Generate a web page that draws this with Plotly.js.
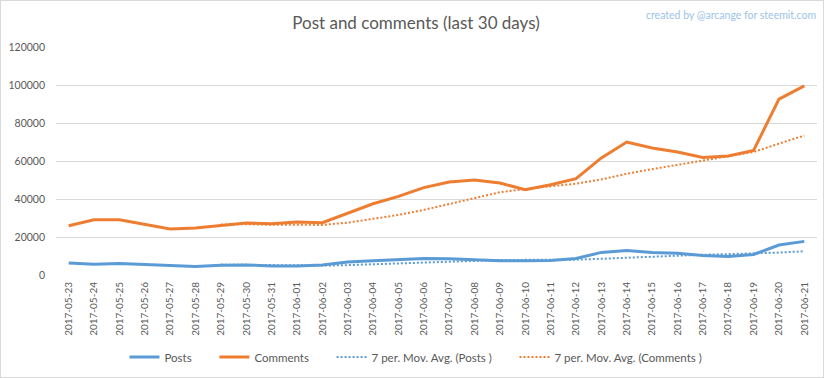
<!DOCTYPE html>
<html>
<head>
<meta charset="utf-8">
<script src="https://cdn.plot.ly/plotly-3.0.1.min.js"></script>
<style>
  html, body { margin: 0; padding: 0; background: #fff; }
  #frame { position: absolute; left: 0; top: 0; width: 822px; height: 376px; border: 1px solid #d9d9d9; }
  #chart { position: absolute; left: 0; top: 0; width: 832px; height: 378px; }
</style>
</head>
<body>
<div id="frame"></div>
<div id="chart"></div>
<script>
const dates = ["2017-05-23","2017-05-24","2017-05-25","2017-05-26","2017-05-27","2017-05-28","2017-05-29","2017-05-30","2017-05-31","2017-06-01","2017-06-02","2017-06-03","2017-06-04","2017-06-05","2017-06-06","2017-06-07","2017-06-08","2017-06-09","2017-06-10","2017-06-11","2017-06-12","2017-06-13","2017-06-14","2017-06-15","2017-06-16","2017-06-17","2017-06-18","2017-06-19","2017-06-20","2017-06-21"];
const posts = [6300,5600,6100,5600,5100,4500,5100,5300,4700,4700,5300,6800,7500,8000,8700,8600,8000,7500,7500,7600,8700,11900,12900,11900,11400,10300,9800,10800,15800,17700];
const comments = [25900,29100,29100,26800,24200,24700,25900,27400,27000,27900,27500,32600,37500,41400,46000,48900,50000,48400,44900,47500,50700,61600,70000,66800,64700,61900,62600,65600,92600,99500];
const maDates = dates.slice(6);
const maPosts = [5470,5330,5200,5000,4960,5200,5630,6040,6530,7090,7560,7870,7970,7990,8090,8540,9160,9710,10270,10670,10990,11270,11810,12500];
const maComments = [26530,26740,26440,26270,26370,27570,29400,31610,34270,37400,40560,43540,45300,46730,48060,50290,53300,55700,58030,60460,62610,64740,69170,73390];
const tickVals = [0,20000,40000,60000,80000,100000,120000];
const seriesNames = ["Posts", "Comments", "7 per. Mov. Avg. (Posts )", "7 per. Mov. Avg. (Comments )"];

const BLUE = "#5b9bd5", ORANGE = "#ed7d31";
const FONT = "Lato, 'Open Sans', sans-serif";
const PAD = "\u00a0\u00a0\u00a0\u00a0\u00a0\u00a0";

const traces = [
  {x: dates, y: posts, name: seriesNames[0] + PAD, type: "scatter", mode: "lines",
   line: {color: BLUE, width: 3}},
  {x: dates, y: comments, name: seriesNames[1] + PAD, type: "scatter", mode: "lines",
   line: {color: ORANGE, width: 3}},
  {x: maDates, y: maPosts, name: seriesNames[2] + PAD, type: "scatter", mode: "lines",
   line: {color: BLUE, width: 2, dash: "2px,2px"}},
  {x: maDates, y: maComments, name: seriesNames[3], type: "scatter", mode: "lines",
   line: {color: ORANGE, width: 2, dash: "2px,2px"}}
];

const layout = {
  width: 832, height: 378,
  paper_bgcolor: "rgba(0,0,0,0)", plot_bgcolor: "rgba(0,0,0,0)",
  margin: {l: 56, r: 15, t: 47, b: 103},
  font: {family: FONT, color: "#595959", size: 11},
  title: {text: "Post and comments (last 30 days)", font: {family: FONT, size: 17, color: "#595959"},
          x: 0.5, xanchor: "center", y: 1 - 23 / 378, yanchor: "middle", yref: "container"},
  showlegend: true,
  legend: {orientation: "h", x: 0.5, xref: "container", xanchor: "center",
           y: 1 - 357 / 378, yref: "container", yanchor: "middle",
           font: {family: FONT, size: 11.5, color: "#595959"}, itemwidth: 30, tracegroupgap: 0},
  xaxis: {type: "category", categoryorder: "array", categoryarray: dates, automargin: false,
          range: [-0.5, 29.5], tickangle: -90, showgrid: false, zeroline: false,
          showline: false, ticks: "", ticklabelstandoff: 4,
          tickfont: {family: FONT, size: 10, color: "#595959"}},
  yaxis: {range: [0, 120000], tickvals: tickVals, ticktext: tickVals.map(String), automargin: false,
          showgrid: true, gridcolor: "#d9d9d9", gridwidth: 1, zeroline: false,
          showline: false, ticks: "", ticklabelstandoff: 10,
          tickfont: {family: FONT, size: 10.5, color: "#595959"}},
  annotations: [{text: "created by @arcange for steemit.com", xref: "paper", yref: "paper",
                 x: 1 + (818 - 817) / 761, xanchor: "right",
                 y: 1 + (47 - 15) / 228, yanchor: "middle",
                 showarrow: false,
                 font: {family: FONT, size: 10.5, color: "#9dc3e6"}}]
};

Plotly.newPlot("chart", traces, layout, {displayModeBar: false, staticPlot: true});
</script>
</body>
</html>
